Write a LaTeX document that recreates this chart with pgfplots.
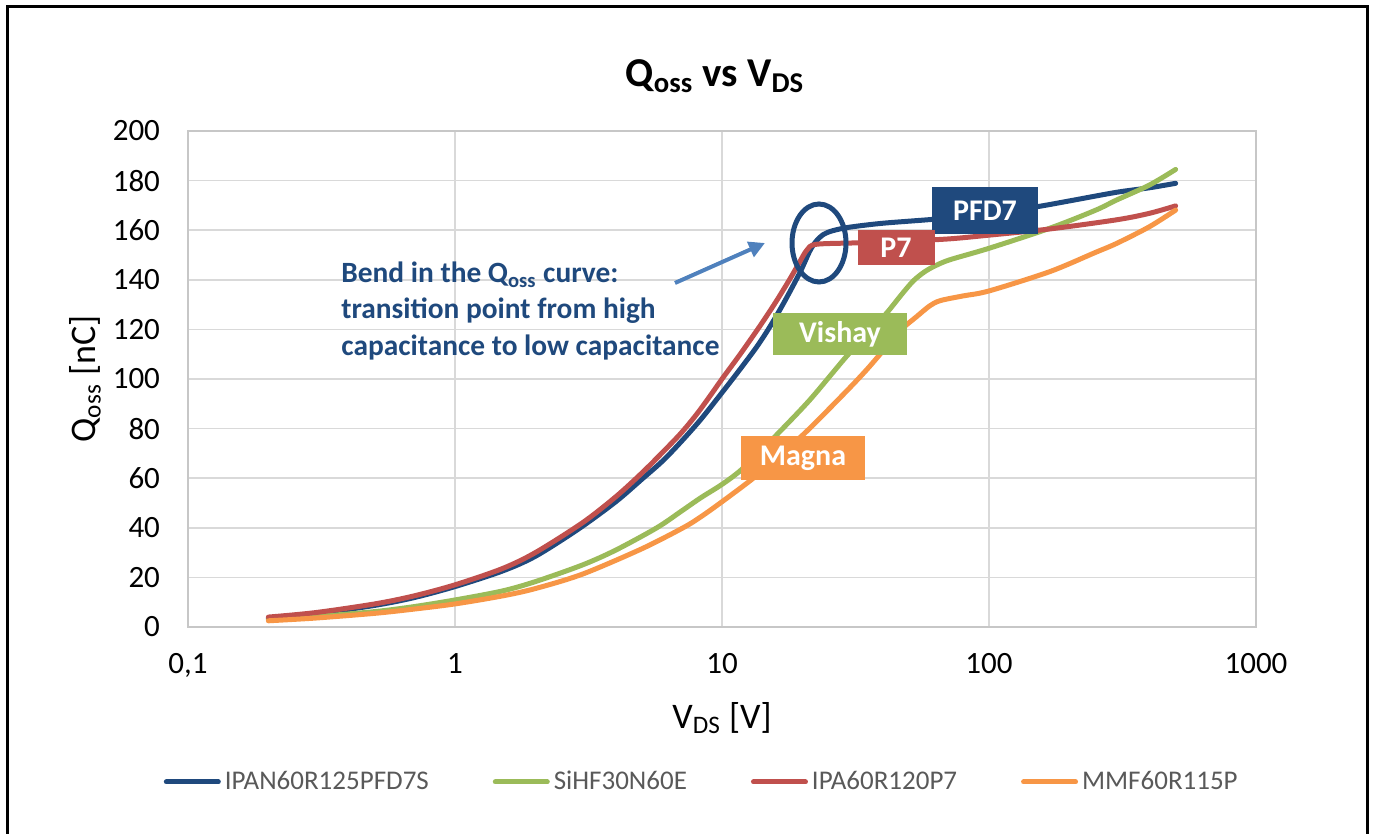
\documentclass[border=0pt]{standalone}
\usepackage{pgfplots}
\pgfplotsset{compat=1.18}
\usepackage{fontspec}
\setmainfont{Carlito}
\usetikzlibrary{arrows.meta}
\definecolor{cblue}{RGB}{31,73,125}
\definecolor{cgreen}{RGB}{155,187,89}
\definecolor{cred}{RGB}{192,80,77}
\definecolor{corange}{RGB}{247,150,70}
\definecolor{carrow}{RGB}{79,129,189}
\definecolor{cgrid}{RGB}{217,217,217}
\definecolor{ctext}{RGB}{89,89,89}
\begin{document}
\begin{tikzpicture}
\path[use as bounding box] (0,0) rectangle (687.5pt,417pt);
\draw[line width=1.5pt] (3.5pt,0pt) -- (3.5pt,413.5pt) -- (683.5pt,413.5pt) -- (683.5pt,0pt);
\begin{axis}[
  at={(94pt,103.5pt)}, anchor=south west,
  scale only axis, width=534pt, height=248pt,
  xmode=log, xmin=0.1, xmax=1000, ymin=0, ymax=200,
  log basis x=10,
  xtick={0.1,1,10,100,1000},
  xticklabels={{0,1},1,10,100,1000},
  ytick={0,20,...,200},
  minor xtick={}, 
  major tick length=0pt, minor tick length=0pt,
  grid=major, major grid style={cgrid, line width=0.8pt},
  axis line style={cgrid!80!gray, line width=0.8pt},
  tick label style={font=\fontsize{15.5}{18}\selectfont, text=black},
  /pgf/number format/assume math mode=true,
  xticklabel style={yshift=-9.5pt},
  yticklabel style={xshift=-10.5pt},
  xlabel={V\textsubscript{DS} [V]},
  ylabel={Q\textsubscript{oss} [nC]},
  label style={font=\fontsize{18}{21}\selectfont},
  xlabel style={at={(axis description cs:0.5,-0.1835)}, anchor=center},
  ylabel style={at={(axis description cs:-0.0964,0.5)}, anchor=center},
  legend columns=4,
  legend style={draw=none, fill=none, at={(0.482,-0.3125)}, anchor=center,
    font=\fontsize{13.5}{16}\selectfont, text=ctext,
    /tikz/every even column/.append style={column sep=30pt}},
  legend image code/.code={\draw[line width=2.5pt, line cap=round] (0pt,0pt) -- (26pt,0pt);},
  every axis plot/.append style={line width=2.5pt, line cap=round, line join=round, smooth, no markers},
]
\addplot[cblue] coordinates {
(0.2,3.6)(0.3,5.3)(0.5,8.7)(0.7,11.8)(1,16.3)(1.5,22.5)(2,28.5)(2.9,39.5)(4,50.5)(5,59.5)(6,67)(7,74.5)(8.3,83.5)(10,94.5)(11.7,104)(13.5,113)(15.1,121)(17,130.5)(19.6,143)(21.3,151.5)(22.5,155.5)(24,158.3)(26,159.8)(30,161.2)(40,162.8)(62,164.4)(100,166.5)(152,169.5)(200,171.8)(301,175.3)(399,177.1)(500,178.9)};
\addlegendentry{IPAN60R125PFD7S}
\addplot[cgreen] coordinates {
(0.2,3)(0.3,4.2)(0.5,6.2)(0.7,8.2)(1,10.9)(1.5,14.5)(2,18.3)(3,25)(4,31)(5.7,40)(7,46.5)(8.3,52)(10,57.5)(11.7,63)(14,71)(16,77.4)(21.3,91.5)(29.2,109)(35,118)(41.3,126.5)(47,134)(52,139.5)(57,143)(62,145.3)(71,148)(100,152.7)(169,160.8)(250,168)(301,172.2)(399,178.2)(500,184.5)};
\addlegendentry{SiHF30N60E}
\addplot[cred] coordinates {
(0.2,4)(0.3,5.8)(0.5,9.3)(0.7,12.5)(1,17)(1.5,23.5)(2,30)(3,42)(4,52.5)(5,62)(6,70.5)(7,78)(8,85.5)(9,93)(10,100)(11.7,110)(14,122)(16,131.5)(18,140.5)(19.5,147)(20.8,152)(22.5,154.3)(32,154.9)(50,155.7)(71,156.5)(100,158)(169,160.5)(301,164.2)(399,166.8)(500,169.8)};
\addlegendentry{IPA60R120P7}
\addplot[corange] coordinates {
(0.2,2.5)(0.3,3.6)(0.5,5.5)(0.7,7.2)(1,9.3)(1.5,12.5)(2,15.5)(3,21.3)(5,31.5)(7.15,40)(8.3,44.3)(10,50.5)(13.1,60)(16,68)(20.8,79)(29.2,95)(35,104)(41.3,113)(47,120)(53.5,125.1)(60,129.5)(65.7,131.6)(80,133.5)(100,135.5)(169,143.3)(250,151)(301,154.7)(399,161.4)(500,168.1)};
\addlegendentry{MMF60R115P}
\end{axis}
% title
\node[font=\bfseries\fontsize{20.5}{24}\selectfont] at (357.5pt,379pt) {Q\textsubscript{oss} vs V\textsubscript{DS}};
% annotation text
\begin{scope}[every node/.style={anchor=base west, inner sep=0pt, text=cblue, font=\bfseries\fontsize{14.7}{17}\selectfont}]
\node at (170.5pt,275.5pt) {Bend in the Q\textsubscript{oss} curve:};
\node at (170.5pt,257.5pt) {transition point from high};
\node at (170.5pt,239pt) {capacitance to low capacitance};
\end{scope}
% arrow
\draw[carrow, line width=2pt, -{Triangle[length=8pt,width=8pt]}] (337.5pt,275.5pt) -- (382.5pt,295.5pt);
% ellipse
\draw[cblue, line width=2.5pt] (409.5pt,295.5pt) ellipse [x radius=13.5pt, y radius=19.5pt];
% label boxes
\begin{scope}[every node/.style={text=white, font=\bfseries\fontsize{15}{18}\selectfont, inner sep=0pt, anchor=center}]
\node[fill=cblue, minimum width=53pt, minimum height=23.5pt] at (492.5pt,311.5pt) {PFD7};
\node[fill=cred, minimum width=38.5pt, minimum height=17.5pt] at (448pt,293pt) {P7};
\node[fill=cgreen, minimum width=67pt, minimum height=21pt] at (420pt,250pt) {Vishay};
\node[fill=corange, minimum width=62pt, minimum height=22pt] at (401.5pt,188pt) {Magna};
\end{scope}
\end{tikzpicture}
\end{document}
